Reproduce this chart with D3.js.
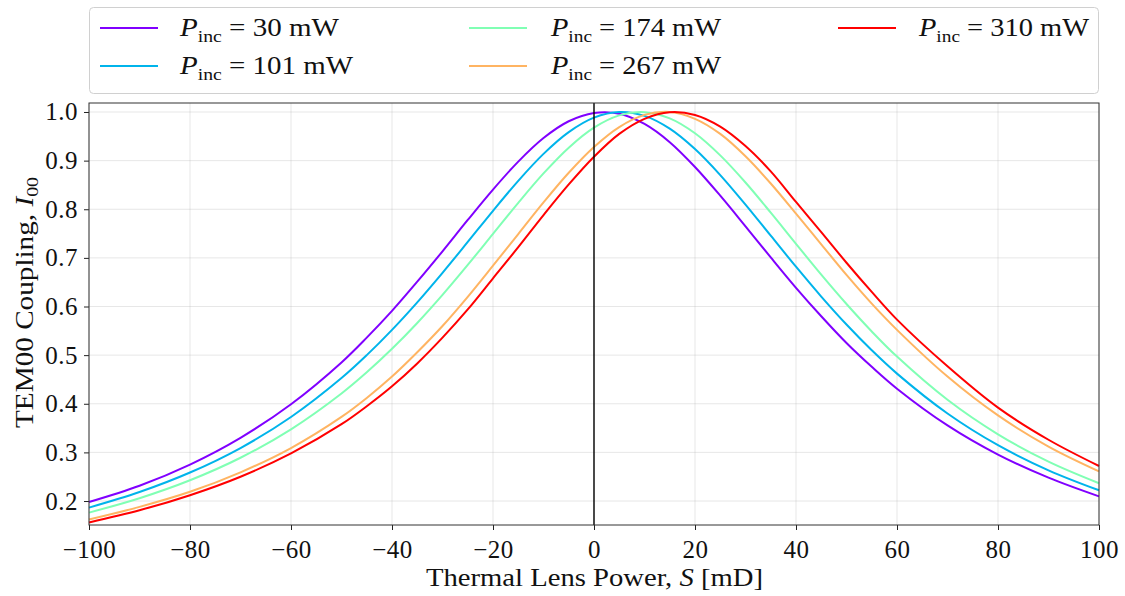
<!DOCTYPE html>
<html><head><meta charset="utf-8">
<script src="https://cdn.jsdelivr.net/npm/d3@7"></script>
<style>
body{margin:0;background:#fff;}
text{font-family:"Liberation Serif","DejaVu Serif",serif;fill:#111;}
</style></head>
<body><svg id="c" width="1125" height="596"></svg>
<script>
const S = [-100,-90,-80,-70,-60,-50,-45,-40,-35,-30,-25,-20,-15,-10,-5,0,5,10,15,20,25,30,35,40,45,50,55,60,70,80,90,100];
const p30  = [.198,.2315,.275,.330,.399,.485,.536,.591,.651,.7135,.778,.8405,.898,.9465,.981,.998,.9965,.9755,.938,.887,.828,.765,.701,.6385,.580,.525,.476,.431,.3555,.2955,.248,.2095];
const p101 = [.1865,.2185,.2586,.309,.3728,.4529,.500,.552,.6086,.6693,.7327,.7968,.8585,.9139,.9586,.9883,.9999,.9921,.9658,.9238,.8703,.8095,.7456,.6818,.6204,.5629,.510,.462,.380,.3148,.2632,.2221];
const p174 = [.1762,.2058,.2427,.289,.3475,.4212,.4647,.513,.5662,.624,.6856,.7494,.8133,.8737,.9267,.9679,.9931,.9997,.987,.9563,.9108,.855,.793,.7289,.6655,.6051,.5487,.497,.4082,.3372,.2809,.2365];
const p267 = [.162,.188,.219,.259,.309,.373,.412,.456,.506,.560,.620,.684,.749,.814,.875,.928,.969,.994,1.0,.986,.955,.909,.853,.791,.728,.665,.606,.552,.456,.376,.312,.261];
const p310 = [.156,.181,.212,.250,.298,.358,.395,.436,.483,.536,.594,.658,.722,.788,.851,.908,.955,.986,.9996,.994,.970,.930,.878,.815,.753,.690,.630,.573,.477,.392,.326,.272];
const powers = [30,101,174,267,310];
const colors = ["#8000ff","#00b4eb","#80ffb4","#ffb462","#ff0000"];
const xTicks = [-100,-80,-60,-40,-20,0,20,40,60,80,100];
const yTicks = [0.2,0.3,0.4,0.5,0.6,0.7,0.8,0.9,1.0];
const seriesVals = [p30,p101,p174,p267,p310];

const svg = d3.select("#c");
const L=89,R=1099,T=103,B=525;
const x = d3.scaleLinear().domain([-100,100]).range([L,R]);
const y = d3.scaleLinear().domain([0.1507,1.0185]).range([B,T]);

// grid
const g = svg.append("g");
g.selectAll(".vg").data(xTicks).enter().append("line")
 .attr("x1",d=>x(d)).attr("x2",d=>x(d)).attr("y1",T).attr("y2",B)
 .attr("stroke","#b0b0b0").attr("stroke-opacity",0.3).attr("stroke-width",1);
g.selectAll(".hg").data(yTicks).enter().append("line")
 .attr("x1",L).attr("x2",R).attr("y1",d=>y(d)).attr("y2",d=>y(d))
 .attr("stroke","#b0b0b0").attr("stroke-opacity",0.3).attr("stroke-width",1);

// curves
const line = d3.line().x(d=>x(d[0])).y(d=>y(d[1])).curve(d3.curveCatmullRom.alpha(0.5));
seriesVals.forEach((vals,i)=>{
  svg.append("path").datum(S.map((s,j)=>[s,vals[j]]))
   .attr("d",line).attr("fill","none").attr("stroke",colors[i]).attr("stroke-width",2);
});

// vertical line at 0
svg.append("line").attr("x1",x(0)).attr("x2",x(0)).attr("y1",T).attr("y2",B)
 .attr("stroke","#000").attr("stroke-width",1.4);

// axes
const fmtX = d=> d<0 ? "\u2212"+(-d) : String(d);
const xa = svg.append("g").attr("transform",`translate(0,${B})`)
 .call(d3.axisBottom(x).tickValues(xTicks).tickFormat(fmtX).tickSize(5).tickPadding(5));
const ya = svg.append("g").attr("transform",`translate(${L},0)`)
 .call(d3.axisLeft(y).tickValues(yTicks).tickFormat(d3.format(".1f")).tickSize(5).tickPadding(6));
[xa,ya].forEach(a=>{
  a.select(".domain").remove();
  a.selectAll("line").attr("stroke","#222").attr("stroke-width",1);
  a.selectAll("text").style("font-size","25px").attr("fill","#111");
});
xa.selectAll("text").attr("dy","0.9em").attr("letter-spacing","0.5px");
ya.selectAll("text").attr("letter-spacing","0.5px");
// frame
svg.append("rect").attr("x",L).attr("y",T).attr("width",R-L).attr("height",B-T)
 .attr("fill","none").attr("stroke","#333").attr("stroke-width",1);

// axis labels
const xl = svg.append("text").attr("x",426).attr("y",586).style("font-size","25px")
 .attr("textLength",337).attr("lengthAdjust","spacingAndGlyphs");
xl.append("tspan").text("Thermal Lens Power,  ");
xl.append("tspan").attr("font-style","italic").text("S");
xl.append("tspan").text("  [mD]");

const yl = svg.append("text").attr("transform",`translate(33,428) rotate(-90)`).style("font-size","25px")
 .attr("textLength",251).attr("lengthAdjust","spacingAndGlyphs");
yl.append("tspan").text("TEM00 Coupling,  ");
yl.append("tspan").attr("font-style","italic").text("I");
yl.append("tspan").attr("dy","5").style("font-size","17px").text("00");

// legend
svg.append("rect").attr("x",89.5).attr("y",7.5).attr("width",1009).attr("height",86).attr("rx",4)
 .attr("fill","#fff").attr("stroke","#d0d0d0").attr("stroke-width",1);
const pos = [[100,28,180],[100,66,180],[469,28,551],[469,66,551],[838,28,919]];
const widths = [159,173,170,170,170];
powers.forEach((p,i)=>{
  const [lx,ly,tx]=pos[i];
  svg.append("line").attr("x1",lx).attr("x2",lx+58).attr("y1",ly).attr("y2",ly)
   .attr("stroke",colors[i]).attr("stroke-width",2);
  const t = svg.append("text").attr("x",tx).attr("y",ly+8).style("font-size","25px")
   .attr("textLength",widths[i]).attr("lengthAdjust","spacingAndGlyphs");
  t.append("tspan").attr("font-style","italic").text("P");
  t.append("tspan").attr("dy","6").style("font-size","17px").text("inc");
  t.append("tspan").attr("dy","-6").text(" = "+p+" mW");
});
</script></body></html>
